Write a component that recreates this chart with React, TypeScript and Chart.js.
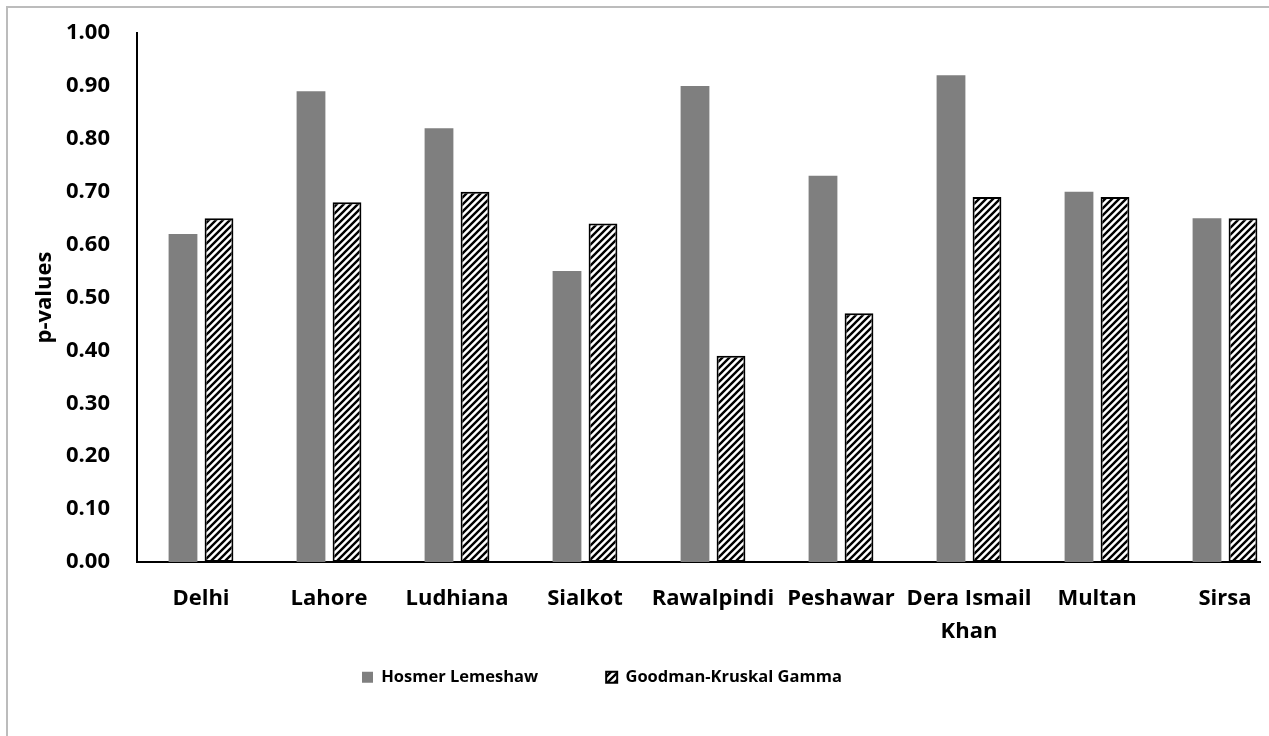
import React, { useEffect, useRef } from "react";
import { Chart, registerables } from "chart.js";

Chart.register(...registerables);

const categories: (string | string[])[] = [
  "Delhi",
  "Lahore",
  "Ludhiana",
  "Sialkot",
  "Rawalpindi",
  "Peshawar",
  ["Dera Ismail", "Khan"],
  "Multan",
  "Sirsa",
];
const hosmerLemeshaw = [0.62, 0.89, 0.82, 0.55, 0.9, 0.73, 0.92, 0.7, 0.65];
const goodmanKruskal = [0.65, 0.68, 0.7, 0.64, 0.39, 0.47, 0.69, 0.69, 0.65];
const seriesNames = ["Hosmer Lemeshaw", "Goodman-Kruskal Gamma"];
const yTickMin = 0;
const yTickMax = 1;
const yTickStep = 0.1;

const FONT = "'Open Sans', 'Liberation Sans', sans-serif";

function makeHatch(): CanvasPattern | string {
  const s = 7;
  const c = document.createElement("canvas");
  c.width = s;
  c.height = s;
  const g = c.getContext("2d");
  if (!g) return "#fff";
  g.fillStyle = "#ffffff";
  g.fillRect(0, 0, s, s);
  g.strokeStyle = "#000000";
  g.lineWidth = 2.4;
  g.beginPath();
  g.moveTo(-1, s + 1);
  g.lineTo(s + 1, -1);
  g.moveTo(-1, 1);
  g.lineTo(1, -1);
  g.moveTo(s - 1, s + 1);
  g.lineTo(s + 1, s - 1);
  g.stroke();
  const p = g.createPattern(c, "repeat");
  return p || "#fff";
}

const legendPlacer = {
  id: "legendPlacer",
  afterLayout(chart: any) {
    const lg = chart.legend;
    if (!lg) return;
    const pad = lg.options.labels.padding;
    lg.left = 354 - pad;
    lg.right = chart.width;
    lg.top = 661 - pad;
    lg.bottom = chart.height;
  },
};

export default function App() {
  const ref = useRef<HTMLCanvasElement | null>(null);

  useEffect(() => {
    if (!ref.current) return;
    const hatch = makeHatch();
    const chart = new Chart(ref.current, {
      type: "bar",
      data: {
        labels: categories,
        datasets: [
          {
            label: seriesNames[0],
            data: hosmerLemeshaw,
            backgroundColor: "#7f7f7f",
            borderWidth: 0,
            categoryPercentage: 0.5625,
            barPercentage: 0.8,
          },
          {
            label: seriesNames[1],
            data: goodmanKruskal,
            backgroundColor: hatch as any,
            borderColor: "#000000",
            borderWidth: 2,
            borderSkipped: false,
            categoryPercentage: 0.5625,
            barPercentage: 0.8,
          },
        ],
      },
      options: {
        animation: false,
        responsive: false,
        maintainAspectRatio: false,
        layout: { padding: { top: 25, right: 19, bottom: 0, left: 0 } },
        plugins: {
          tooltip: { enabled: false },
          legend: {
            position: "bottom",
            align: "start",
            maxHeight: 60,
            labels: {
              boxWidth: 11,
              boxHeight: 11,
              padding: 68,
              color: "#000",
              font: { family: FONT, size: 16.5, weight: "bold" },
            },
          },
        },
        scales: {
          x: {
            grid: { display: false },
            border: { display: true, color: "#000", width: 2 },
            ticks: {
              color: "#000",
              padding: 12,
              maxRotation: 0,
              autoSkip: false,
              font: { family: FONT, size: 22, weight: "bold", lineHeight: 1.5 },
            },
            afterFit: (scale: any) => {
              scale.height = 114;
            },
          },
          y: {
            min: yTickMin,
            max: yTickMax,
            grid: { display: false },
            border: { display: true, color: "#000", width: 2 },
            ticks: {
              stepSize: yTickStep,
              color: "#000",
              padding: 19,
              font: { family: FONT, size: 22, weight: "bold" },
              callback: (v: any) => Number(v).toFixed(2),
            },
            title: {
              display: true,
              text: "p-values",
              color: "#000",
              padding: { top: 24, bottom: 24 },
              font: { family: FONT, size: 22, weight: "bold" },
            },
            afterFit: (scale: any) => {
              scale.width = 129;
              scale.paddingTop = 0;
              scale.paddingBottom = 0;
            },
          },
        },
      },
      plugins: [legendPlacer],
    });
    return () => chart.destroy();
  }, []);

  return (
    <div style={{ position: "relative" }}>
      <canvas ref={ref} width={1300} height={728} style={{ display: "block" }} />
      <div
        style={{
          position: "fixed",
          left: 6,
          top: 6,
          width: 3000,
          height: 3000,
          boxSizing: "border-box",
          borderLeft: "2px solid #bcbcbc",
          borderTop: "2px solid #bcbcbc",
          pointerEvents: "none",
          zIndex: 10,
        }}
      />
    </div>
  );
}
